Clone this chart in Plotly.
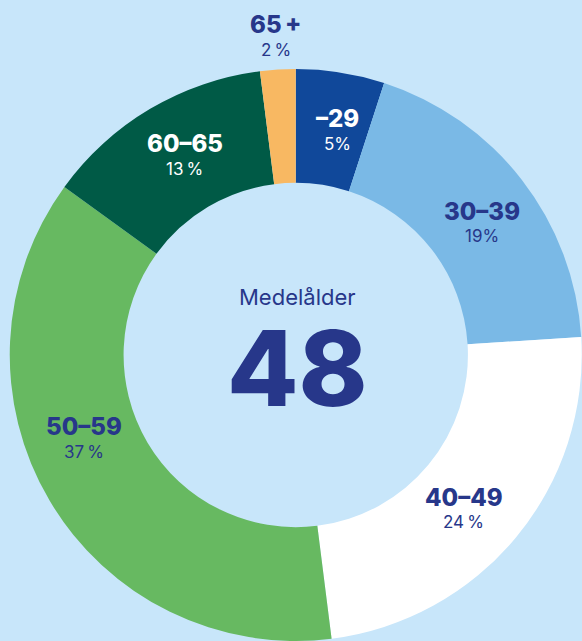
import math
import plotly.graph_objects as go

# ---- data ----
categories = ["\u201329", "30\u201339", "40\u201349", "50\u201359", "60\u201365", "65\u2009+"]
shares = [5, 19, 24, 37, 13, 2]
pct_labels = ["5%", "19%", "24\u2009%", "37\u2009%", "13\u2009%", "2\u2009%"]
center_title = "Medelålder"
center_value = "48"

# ---- styles ----
slice_colors = ["#10489A", "#7AB9E6", "#FFFFFF", "#67B961", "#005A46", "#F8B862"]
label_colors = ["#FFFFFF", "#27378A", "#27378A", "#27378A", "#FFFFFF", "#27378A"]
label_outside = [False, False, False, False, False, True]
angle_nudge = [1.5, 2.5, 3.0, 9.0, 1.5, 0.0]
NAVY = "#27378A"
BG = "#C8E6FA"
W, H = 582, 641
FONT = "Inter"

# pie geometry (pixels)
left_px, top_px = 9.5, 69
dom_w = W - left_px
dom_h = H - top_px
R = min(dom_w, dom_h) / 2
cx = left_px + dom_w / 2
cy = top_px + dom_h / 2
HOLE = 0.602

fig = go.Figure(go.Pie(
    labels=categories,
    values=shares,
    marker=dict(colors=slice_colors, line=dict(width=0)),
    hole=HOLE,
    sort=False,
    direction="clockwise",
    rotation=0,
    textinfo="none",
    hoverinfo="label+percent",
    domain=dict(x=[left_px / W, 1], y=[0, dom_h / H]),
))

annotations = []
total = sum(shares)
cum = 0
for i, (cat, v) in enumerate(zip(categories, shares)):
    mid = (cum + v / 2) / total * 360 + angle_nudge[i]
    cum += v
    rr = R * (1.115 if label_outside[i] else 0.797)
    px = cx + rr * math.sin(math.radians(mid))
    py = cy - rr * math.cos(math.radians(mid))
    xp, yp = px / W, 1 - py / H
    annotations.append(dict(
        x=xp, y=yp, xref="paper", yref="paper", text=cat, showarrow=False,
        yshift=12, xanchor="center", yanchor="middle",
        font=dict(family=FONT, size=24, color=label_colors[i], weight=800),
    ))
    annotations.append(dict(
        x=xp, y=yp, xref="paper", yref="paper", text=pct_labels[i], showarrow=False,
        yshift=-13, xanchor="center", yanchor="middle",
        font=dict(family=FONT, size=17, color=label_colors[i], weight=400),
    ))

annotations.append(dict(
    x=297 / W, y=1 - 297 / H, xref="paper", yref="paper", text=center_title,
    showarrow=False, xanchor="center", yanchor="middle",
    font=dict(family=FONT, size=22, color=NAVY, weight=400),
))
annotations.append(dict(
    x=297 / W, y=1 - 368 / H, xref="paper", yref="paper", text=center_value,
    showarrow=False, xanchor="center", yanchor="middle", height=84, valign="middle",
    font=dict(family=FONT, size=104, color=NAVY, weight=800),
))

fig.update_layout(
    width=W, height=H,
    margin=dict(l=0, r=0, t=0, b=0),
    paper_bgcolor=BG, plot_bgcolor=BG,
    showlegend=False,
    annotations=annotations,
)

post = (
    "document.documentElement.style.margin='0';"
    "document.body.style.margin='0';"
    "document.body.style.padding='0';"
    "document.documentElement.style.overflow='hidden';"
    "document.body.style.overflow='hidden';"
    "document.body.style.background='" + BG + "';"
)
fig.write_html("out.html", post_script=post, config={"displayModeBar": False})
